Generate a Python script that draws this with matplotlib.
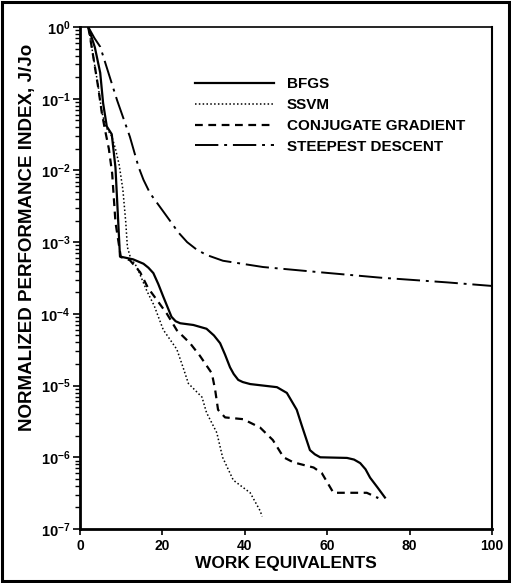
import matplotlib
matplotlib.use("Agg")
import matplotlib.pyplot as plt
from matplotlib.patches import Rectangle
from matplotlib.ticker import FixedLocator, FixedFormatter, LogLocator, NullFormatter

plt.rcParams["font.family"] = ["Liberation Sans", "DejaVu Sans"]
plt.rcParams["mathtext.fontset"] = "custom"
plt.rcParams["mathtext.rm"] = "Liberation Sans:bold"
plt.rcParams["mathtext.bf"] = "Liberation Sans:bold"

# convergence histories: work equivalents vs normalized performance index J/Jo
bfgs_x = [2.0, 3.6, 4.9, 5.6, 6.5, 7.7, 8.6, 9.7, 12.9, 15.4, 16.6, 17.8, 19.0,
          20.2, 22.2, 23.2, 24.3, 27.5, 30.7, 32.5, 34.0, 35.2, 36.4, 37.3, 38.4,
          39.5, 41.3, 47.8, 50.2, 52.6, 53.8, 55.8, 57.0, 58.3, 64.8, 66.5, 68.0,
          69.3, 70.4, 72.2, 74.0]
bfgs_j = [1.0, 0.52, 0.23, 0.087, 0.041, 0.032, 0.011, 6.3e-4, 5.75e-4, 5.0e-4,
          4.4e-4, 3.7e-4, 2.6e-4, 1.74e-4, 9.1e-5, 7.9e-5, 7.4e-5, 7.0e-5, 6.2e-5,
          5.0e-5, 3.9e-5, 2.7e-5, 1.8e-5, 1.45e-5, 1.2e-5, 1.12e-5, 1.05e-5,
          9.5e-6, 7.9e-6, 4.6e-6, 2.8e-6, 1.26e-6, 1.1e-6, 1.0e-6, 9.8e-7, 9.3e-7,
          8.3e-7, 6.8e-7, 5.2e-7, 3.8e-7, 2.75e-7]

ssvm_x = [2.0, 2.9, 4.4, 5.3, 6.3, 7.7, 8.6, 9.5, 10.4, 11.1, 11.5, 12.2, 13.8,
          16.2, 18.0, 20.2, 23.5, 25.0, 26.3, 29.6, 30.7, 33.2, 34.6, 37.2, 41.3,
          43.7, 44.2]
ssvm_j = [1.0, 0.5, 0.15, 0.065, 0.04, 0.03, 0.02, 0.012, 5.4e-3, 1.9e-3, 8.5e-4,
          6.2e-4, 4.5e-4, 2.1e-4, 1.3e-4, 6.0e-5, 3.2e-5, 1.8e-5, 1.07e-5, 6.9e-6,
          4.2e-6, 2.2e-6, 1.0e-6, 4.8e-7, 3.2e-7, 1.8e-7, 1.5e-7]

cg_x = [2.0, 2.9, 4.4, 5.3, 6.1, 7.0, 7.8, 8.6, 9.9, 12.1, 14.6, 16.5, 18.7, 21.1,
        23.5, 26.7, 29.1, 32.0, 32.8, 33.5, 35.2, 39.6, 43.7, 46.8, 49.4, 51.8,
        56.7, 58.7, 61.5, 65.5, 69.6, 72.4]
cg_j = [1.0, 0.5, 0.145, 0.063, 0.036, 0.02, 9.1e-3, 1.9e-3, 6.2e-4, 5.6e-4, 3.8e-4,
        2.3e-4, 1.55e-4, 1.0e-4, 5.9e-5, 3.9e-5, 2.6e-5, 1.48e-5, 8.7e-6, 4.6e-6,
        3.6e-6, 3.4e-6, 2.6e-6, 1.74e-6, 1.0e-6, 8.5e-7, 7.2e-7, 6.0e-7, 3.2e-7,
        3.2e-7, 3.2e-7, 2.7e-7]

sd_x = [2.0, 3.5, 4.9, 9.0, 12.1, 14.2, 15.4, 17.0, 19.4, 21.8, 23.8, 26.0, 28.4,
        30.8, 34.7, 44.4, 58.3, 72.8, 89.0, 100.0]
sd_j = [1.0, 0.7, 0.53, 0.095, 0.0295, 0.0112, 7.4e-3, 4.8e-3, 3.1e-3, 2.0e-3,
        1.38e-3, 1.0e-3, 7.8e-4, 6.6e-4, 5.5e-4, 4.5e-4, 3.8e-4, 3.2e-4, 2.75e-4,
        2.45e-4]

x_ticks = [0, 20, 40, 60, 80, 100]
y_ticks = [1e0, 1e-1, 1e-2, 1e-3, 1e-4, 1e-5, 1e-6, 1e-7]
y_tick_labels = [r"$\mathbf{10^{0}}$", r"$\mathbf{10^{-1}}$", r"$\mathbf{10^{-2}}$",
                 r"$\mathbf{10^{-3}}$", r"$\mathbf{10^{-4}}$", r"$\mathbf{10^{-5}}$",
                 r"$\mathbf{10^{-6}}$", r"$\mathbf{10^{-7}}$"]

fig = plt.figure(figsize=(5.11, 5.83), dpi=100)
ax = fig.add_axes([0.1566, 0.0926, 0.8063, 0.8611])

ax.plot(bfgs_x, bfgs_j, color="black", lw=1.6, label="BFGS")
ax.plot(ssvm_x, ssvm_j, color="black", lw=1.1, linestyle=(0, (1, 1.5)), label="SSVM")
ax.plot(cg_x, cg_j, color="black", lw=1.6, linestyle=(0, (3.5, 2.5)),
        label="CONJUGATE GRADIENT")
ax.plot(sd_x, sd_j, color="black", lw=1.4, linestyle=(0, (12, 3, 1.5, 3)),
        label="STEEPEST DESCENT")

ax.set_yscale("log")
ax.set_xlim(0, 100)
ax.set_ylim(1e-7, 1e0)

ax.xaxis.set_major_locator(FixedLocator(x_ticks))
ax.yaxis.set_major_locator(FixedLocator(y_ticks))
ax.yaxis.set_major_formatter(FixedFormatter(y_tick_labels))
ax.yaxis.set_minor_locator(LogLocator(base=10, subs=range(2, 10), numticks=20))
ax.yaxis.set_minor_formatter(NullFormatter())

for lab in ax.get_xticklabels():
    lab.set_fontweight("bold")
ax.tick_params(axis="x", direction="out", length=4, width=1.2, labelsize=10, pad=3)
ax.tick_params(axis="y", which="major", direction="out", length=5, width=1.2,
               labelsize=10.5, pad=2)
ax.tick_params(axis="y", which="minor", direction="out", length=3.5, width=1.0)

ax.spines["left"].set_linewidth(2.0)
ax.spines["bottom"].set_linewidth(2.0)
ax.spines["right"].set_linewidth(1.5)
ax.spines["top"].set_linewidth(1.2)

ax.set_xlabel("WORK EQUIVALENTS", fontsize=12.5, fontweight="bold", labelpad=2)
ax.set_ylabel("NORMALIZED PERFORMANCE INDEX, J/Jo", fontsize=13.5, fontweight="bold",
              labelpad=6)
ax.yaxis.set_label_coords(-0.108, 0.58)

ax.legend(loc="upper left", bbox_to_anchor=(0.279, 0.9), frameon=False,
          handlelength=5.2, handletextpad=0.8, labelspacing=0.45,
          borderpad=0, borderaxespad=0,
          prop={"weight": "bold", "size": 11})

# border round the whole figure
fig.patches.append(Rectangle((0.003, 0.003), 0.994, 0.994, transform=fig.transFigure,
                             fill=False, edgecolor="black", lw=2.2))

fig.savefig("out.png", dpi=100)
